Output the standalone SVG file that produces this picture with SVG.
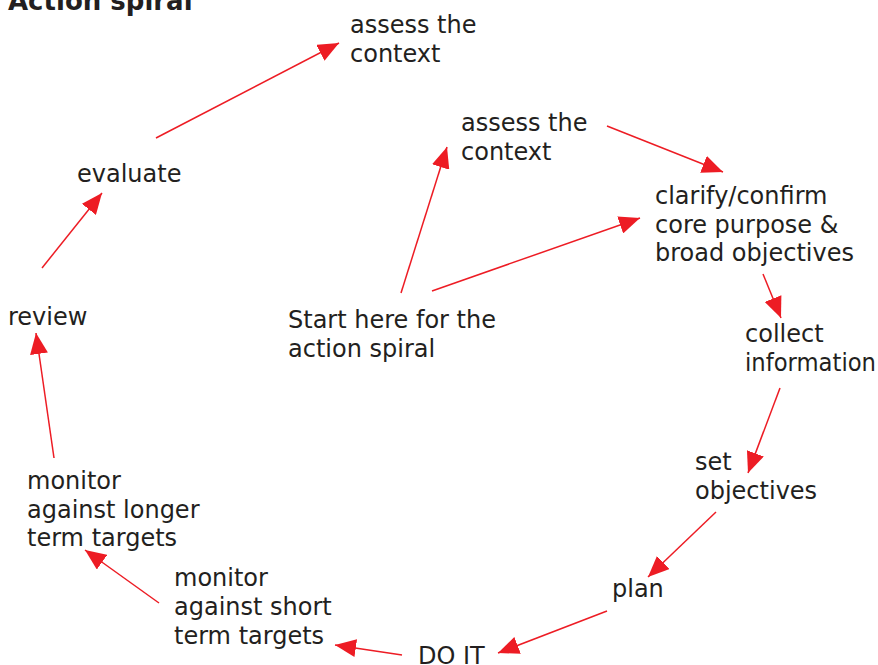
<svg xmlns="http://www.w3.org/2000/svg" width="878" height="665" viewBox="0 0 878 665">
  <style>
    text { font-family: "DejaVu Sans", Verdana, sans-serif; font-size: 24px; fill: #231f20; }
    .title { font-weight: bold; font-size: 26px; }
    .conn line { stroke: #ed1c24; stroke-width: 1.5; fill: none; marker-end: url(#head); }
  </style>
  <defs>
    <marker id="head" viewBox="0 0 21 18" refX="21" refY="9" markerWidth="21" markerHeight="18" markerUnits="userSpaceOnUse" orient="auto">
      <path d="M0,0 L21,9 L0,18 z" fill="#ed1c24"/>
    </marker>
  </defs>

  <text class="title" x="8" y="10">Action spiral</text>

  <g id="assess-outer"><text x="350" y="33">assess the</text><text x="350" y="62">context</text></g>
  <g id="evaluate"><text x="77" y="182">evaluate</text></g>
  <g id="review"><text x="8" y="325">review</text></g>
  <g id="monitor-long"><text x="27" y="489">monitor</text><text x="27" y="518">against longer</text><text x="27" y="546">term targets</text></g>
  <g id="monitor-short"><text x="174" y="586">monitor</text><text x="174" y="615">against short</text><text x="174" y="644">term targets</text></g>
  <g id="do-it"><text x="418" y="664">DO IT</text></g>
  <g id="plan"><text x="612" y="597">plan</text></g>
  <g id="set-objectives"><text x="695" y="470">set</text><text x="695" y="499">objectives</text></g>
  <g id="collect"><text x="745" y="342">collect</text><text x="745" y="371" textLength="131" lengthAdjust="spacingAndGlyphs">information</text></g>
  <g id="clarify"><text x="655" y="204">clarify/confirm</text><text x="655" y="233">core purpose &amp;</text><text x="655" y="261">broad objectives</text></g>
  <g id="assess-inner"><text x="461" y="131">assess the</text><text x="461" y="160">context</text></g>
  <g id="start"><text x="288" y="328">Start here for the</text><text x="288" y="357">action spiral</text></g>

  <g class="conn">
    <line x1="156" y1="138" x2="339" y2="43"/>
    <line x1="42" y1="268" x2="102" y2="193"/>
    <line x1="54" y1="458" x2="36" y2="333"/>
    <line x1="159" y1="603" x2="85" y2="550"/>
    <line x1="402" y1="655" x2="335" y2="645"/>
    <line x1="607" y1="611" x2="498" y2="653"/>
    <line x1="716" y1="512" x2="648" y2="577"/>
    <line x1="780" y1="388" x2="748" y2="473"/>
    <line x1="763" y1="274" x2="781" y2="318"/>
    <line x1="607" y1="126" x2="723" y2="172"/>
    <line x1="401" y1="293" x2="447" y2="147"/>
    <line x1="432" y1="291" x2="640" y2="218"/>
  </g>
</svg>
